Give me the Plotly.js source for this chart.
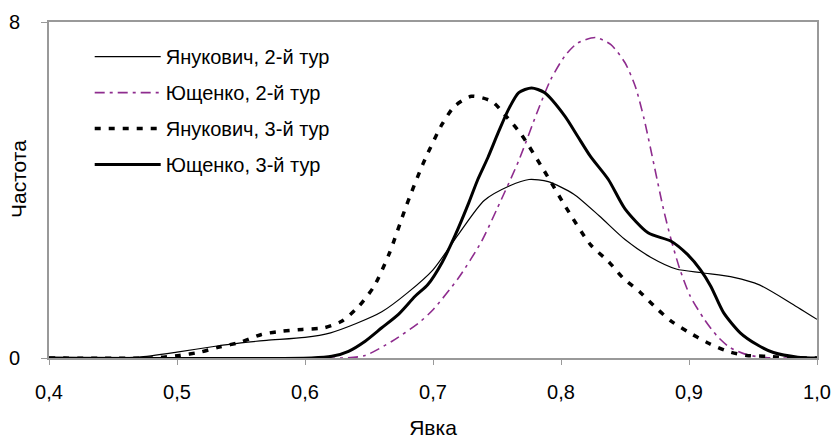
<!DOCTYPE html>
<html>
<head>
<meta charset="utf-8">
<script src="https://cdn.plot.ly/plotly-3.0.1.min.js"></script>
<style>html,body{margin:0;padding:0;background:#fff;}#chart{width:832px;height:439px;}</style>
</head>
<body>
<div id="chart"></div>
<script>
// Series names
const names = ["Янукович, 2-й тур", "Ющенко, 2-й тур", "Янукович, 3-й тур", "Ющенко, 3-й тур"];

// Янукович, 2-й тур
const yan2X = [0.40,0.45,0.47,0.50,0.53,0.55,0.57,0.60,0.62,0.64,0.66,0.68,0.70,0.72,0.74,0.76,0.775,0.79,0.81,0.83,0.85,0.87,0.89,0.91,0.935,0.955,0.98,1.0];
const yan2Y = [0,0,0.02,0.14,0.28,0.36,0.42,0.49,0.6,0.82,1.1,1.55,2.1,2.95,3.75,4.1,4.25,4.2,3.9,3.38,2.82,2.4,2.12,2.03,1.92,1.74,1.3,0.92];

// Ющенко, 2-й тур
const yus2X = [0.40,0.60,0.63,0.647,0.668,0.689,0.70,0.72,0.738,0.75,0.767,0.782,0.792,0.803,0.813,0.827,0.839,0.85,0.858,0.865,0.873,0.88,0.886,0.893,0.901,0.912,0.922,0.932,0.945,0.96,1.0];
const yus2Y = [0,0,0,0.06,0.4,0.84,1.15,1.91,2.78,3.55,4.7,5.9,6.63,7.19,7.5,7.63,7.46,7.03,6.47,5.68,4.55,3.55,2.82,2.1,1.47,0.92,0.52,0.25,0.08,0.01,0];

// Янукович, 3-й тур
const yan3X = [0.40,0.48,0.502,0.518,0.533,0.55,0.566,0.582,0.598,0.615,0.629,0.642,0.654,0.666,0.679,0.692,0.707,0.717,0.73,0.746,0.757,0.769,0.787,0.804,0.823,0.837,0.848,0.862,0.873,0.886,0.90,0.914,0.93,0.945,0.961,0.98,1.0];
const yan3Y = [0,0,0.06,0.14,0.26,0.38,0.56,0.64,0.68,0.72,0.88,1.23,1.71,2.5,3.61,4.61,5.56,6.0,6.23,6.11,5.76,5.32,4.45,3.58,2.7,2.3,1.92,1.56,1.23,0.88,0.61,0.37,0.16,0.06,0.04,0,0];

// Ющенко, 3-й тур
const yus3X = [0.40,0.605,0.621,0.634,0.647,0.66,0.673,0.686,0.696,0.707,0.717,0.728,0.735,0.743,0.751,0.759,0.767,0.777,0.787,0.803,0.813,0.823,0.837,0.85,0.868,0.886,0.899,0.909,0.917,0.927,0.94,0.953,0.966,0.985,1.0];
const yus3Y = [0,0,0.04,0.16,0.4,0.72,1.04,1.47,1.75,2.27,2.9,3.7,4.25,4.78,5.37,5.92,6.32,6.43,6.32,5.76,5.28,4.8,4.25,3.55,2.98,2.78,2.46,2.1,1.71,1.08,0.6,0.32,0.13,0.02,0];

// Axis ticks and titles
const xTicks = [0.4,0.5,0.6,0.7,0.8,0.9,1.0];
const yTicks = [0,8];
const xTitle = "Явка";
const yTitle = "Частота";

const font = "Liberation Sans, Arial, sans-serif";

const traces = [
  {x: yan2X, y: yan2Y, name: names[0], legendgroup: "a", line: {color: "#000000", width: 1.2, shape: "spline", smoothing: 0.7}},
  {x: yus2X, y: yus2Y, name: names[1], legendgroup: "b", line: {color: "#8E2C8E", width: 1.6, dash: "10px,5px,3px,5px", shape: "spline", smoothing: 0.7}},
  {x: yan3X, y: yan3Y, name: names[2], legendgroup: "c", line: {color: "#000000", width: 3.5, dash: "6px,8px", shape: "spline", smoothing: 0.7}},
  {x: yus3X, y: yus3Y, name: names[3], legendgroup: "d", line: {color: "#000000", width: 3, shape: "spline", smoothing: 0.7}}
].map(t => Object.assign({type: "scatter", mode: "lines", hoverinfo: "skip"}, t));

const layout = {
  width: 832, height: 439,
  margin: {l: 49, r: 15, t: 22, b: 81},
  paper_bgcolor: "#ffffff", plot_bgcolor: "#ffffff",
  separators: ", ",
  font: {family: font, size: 20, color: "#000"},
  showlegend: true,
  legend: {x: 0.053, y: 0.955, xanchor: "left", yanchor: "top", bgcolor: "rgba(0,0,0,0)",
           font: {family: font, size: 20, color: "#000"}, tracegroupgap: 7, traceorder: "grouped", itemwidth: 66},
  xaxis: {range: [0.4, 1.0], tickvals: xTicks, tickformat: ".1f", showgrid: false, zeroline: false,
          showline: true, linecolor: "#999999", linewidth: 2, mirror: true,
          ticks: "outside", ticklen: 5, tickcolor: "#999999", tickwidth: 1,
          ticklabelstandoff: 10, ticklabeloverflow: "allow",
          tickfont: {family: font, size: 20, color: "#000"},
          title: {text: xTitle, font: {family: font, size: 21, color: "#000"}, standoff: 21}},
  yaxis: {range: [0, 8], tickvals: yTicks, showgrid: false, zeroline: false,
          showline: true, linecolor: "#999999", linewidth: 2, mirror: true,
          ticks: "outside", ticklen: 6, tickcolor: "#999999", tickwidth: 1,
          ticklabelstandoff: 17,
          tickfont: {family: font, size: 20, color: "#000"}},
  annotations: [{text: yTitle, xref: "paper", yref: "paper", x: -31/768, y: (358-179)/336,
                 xanchor: "center", yanchor: "middle", textangle: -90, showarrow: false,
                 font: {family: font, size: 21, color: "#000"}}]
};

Plotly.newPlot("chart", traces, layout, {staticPlot: true});
</script>
</body>
</html>
